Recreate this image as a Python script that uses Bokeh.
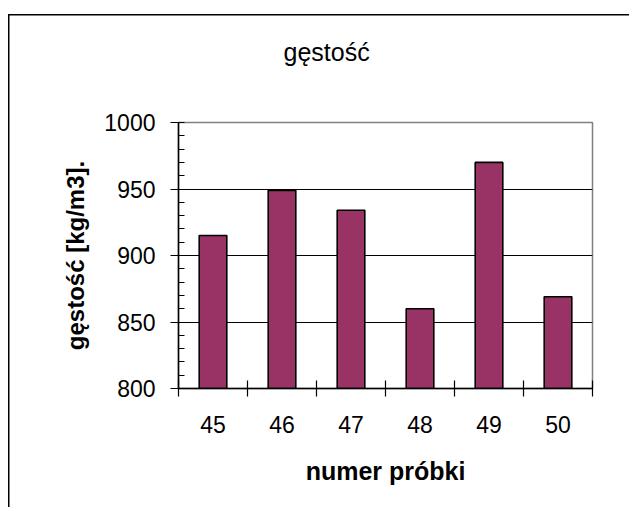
from bokeh.plotting import figure
from bokeh.models import ColumnDataSource, FixedTicker, InlineStyleSheet
from bokeh.embed import file_html
from bokeh.resources import INLINE

# sample numbers and measured density [kg/m3]
samples = [45, 46, 47, 48, 49, 50]
density = [915, 949, 934, 860, 970, 869]
y_ticks = [800, 850, 900, 950, 1000]

title_text = "gęstość"
x_label = "numer próbki"
y_label = "gęstość [kg/m3]."

FONT = "Liberation Sans"
BAR_COLOR = "#993366"

# plot-area margins inside the canvas (px)
LEFT, RIGHT, TOP, BOTTOM = 178, 37, 122, 119
W, H = 629, 507

# outer chart border drawn on the host element (left and top edges are visible)
chart_border = InlineStyleSheet(css="""
:host {
  background-color: white;
  box-shadow: inset 8px 14px 0 0 white, inset 9.5px 15.5px 0 0 black;
}
""")

source = ColumnDataSource(data=dict(sample=samples, density=density))

p = figure(
    width=W, height=H,
    x_range=(samples[0] - 0.5, samples[-1] + 0.5),
    y_range=(y_ticks[0], y_ticks[-1]),
    output_backend="svg", toolbar_location=None,
    min_border_left=LEFT, min_border_right=RIGHT,
    min_border_top=TOP, min_border_bottom=BOTTOM,
    background_fill_color="white",
    title=title_text + "\n",   # trailing blank line lifts the title off the plot area
)
p.border_fill_alpha = 0
p.stylesheets = [chart_border]
p.outline_line_color = "#808080"
p.outline_line_width = 1.5

# chart title
p.title.text_font = FONT
p.title.text_font_size = "25px"
p.title.text_font_style = "normal"
p.title.text_color = "black"
p.title.align = "left"
p.title.offset = 105
p.title.standoff = 58

p.vbar(x="sample", top="density", bottom=y_ticks[0], width=0.4, source=source,
       fill_color=BAR_COLOR, line_color="black", line_width=1.6)

# x axis: labels at sample centres, tick marks between samples
p.xaxis.ticker = FixedTicker(ticks=samples,
                             minor_ticks=[s - 0.5 for s in samples] + [samples[-1] + 0.5])
p.xaxis.major_tick_out = 0
p.xaxis.major_tick_in = 0
p.xaxis.minor_tick_out = 8
p.xaxis.minor_tick_in = 8
p.xaxis.minor_tick_line_color = "black"
p.xaxis.major_label_standoff = 19
p.xaxis.axis_label = x_label
p.xaxis.axis_label_standoff = 21
p.xaxis.axis_label_text_font_style = "bold"
p.xaxis.axis_label_text_font_size = "25px"

# y axis
p.yaxis.ticker = FixedTicker(ticks=y_ticks,
                             minor_ticks=list(range(y_ticks[0], y_ticks[-1] + 1, 10)))
p.yaxis.major_tick_out = 8
p.yaxis.major_tick_in = 0
p.yaxis.minor_tick_in = 6
p.yaxis.minor_tick_out = 0
p.yaxis.minor_tick_line_color = "black"
p.yaxis.major_label_standoff = 15
p.yaxis.axis_label = y_label
p.yaxis.axis_label_standoff = 12
p.yaxis.axis_label_text_font_style = "bold"
p.yaxis.axis_label_text_font_size = "24px"

for ax in (p.xaxis, p.yaxis):
    ax.axis_line_color = "black"
    ax.axis_line_width = 1.5
    ax.major_tick_line_color = "black"
    ax.major_tick_line_width = 1.2
    ax.minor_tick_line_width = 1.2
    ax.major_label_text_font = FONT
    ax.major_label_text_font_size = "23px"
    ax.major_label_text_color = "black"
    ax.axis_label_text_font = FONT
    ax.axis_label_text_color = "black"

p.xgrid.visible = False
p.ygrid.ticker = FixedTicker(ticks=y_ticks[1:-1])
p.ygrid.grid_line_color = "black"
p.ygrid.grid_line_width = 1

open("out.html", "w").write(file_html(p, INLINE))
